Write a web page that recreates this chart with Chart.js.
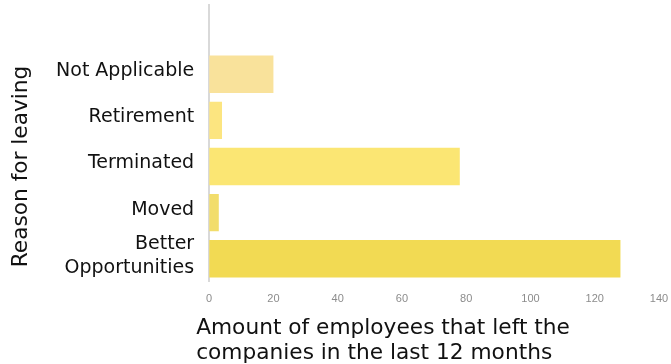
<!DOCTYPE html>
<html>
<head>
<meta charset="utf-8">
<script src="https://cdn.jsdelivr.net/npm/chart.js@4"></script>
<style>
  html, body { margin: 0; padding: 0; background: #fff; }
  #wrap { width: 671px; height: 364px; }
</style>
</head>
<body>
<div id="wrap"><canvas id="myChart"></canvas></div>
<script>
// first slot is left empty so the axis runs up to the top edge
const reasons = ['', 'Not Applicable', 'Retirement', 'Terminated', 'Moved', ['Better', 'Opportunities']];
const leftCount = [null, 20, 4, 78, 3, 128];
const barColors = ['#ffffff', '#f9e29b', '#fce580', '#fbe673', '#f2dd6b', '#f2da53'];
const xTicks = [0, 20, 40, 60, 80, 100, 120, 140];
const xTitle = ['Amount of employees that left the', 'companies in the last 12 months'];
const yTitle = 'Reason for leaving';

const labelFont = "'DejaVu Sans', sans-serif";
const tickFont = "'Liberation Sans', 'Open Sans', sans-serif";
const titleSize = 21.7;

// axis titles drawn by hand: x title starts left of the plot edge,
// y title is centred on the filled categories only
const axisTitles = {
  id: 'axisTitles',
  afterDraw(chart) {
    const c = chart.ctx;
    const area = chart.chartArea;
    const x = chart.scales.x;
    const y = chart.scales.y;
    c.save();
    c.fillStyle = '#111';
    c.font = titleSize + 'px ' + labelFont;
    c.textBaseline = 'middle';
    c.textAlign = 'left';
    xTitle.forEach((line, i) => c.fillText(line, area.left - 13, x.bottom - 35.5 + i * 25));
    const midY = (y.getPixelForValue(1) + y.getPixelForValue(reasons.length - 1)) / 2;
    c.translate(y.left + 18, midY);
    c.rotate(-Math.PI / 2);
    c.textAlign = 'center';
    c.fillText(yTitle, 0, 0);
    c.restore();
  }
};

const data = {
  labels: reasons,
  datasets: [{
    data: leftCount,
    backgroundColor: barColors,
    borderWidth: 0,
    categoryPercentage: 1,
    barPercentage: 0.81
  }]
};

const config = {
  type: 'bar',
  data: data,
  plugins: [axisTitles],
  options: {
    indexAxis: 'y',
    responsive: true,
    maintainAspectRatio: false,
    animation: false,
    layout: { padding: { top: 5, right: 0, left: 3, bottom: 0 } },
    plugins: {
      legend: { display: false },
      tooltip: { enabled: false }
    },
    scales: {
      x: {
        min: 0,
        max: 140,
        afterBuildTicks: (axis) => { axis.ticks = xTicks.map(v => ({ value: v })); },
        afterFit: (s) => { s.paddingLeft = 0; s.paddingRight = 12; },
        grid: { display: false, drawTicks: false },
        border: { display: false },
        ticks: {
          color: '#8c8c8c',
          padding: 11,
          font: { family: tickFont, size: 11 }
        },
        title: {
          display: true,
          text: xTitle,
          color: 'rgba(0,0,0,0)',
          font: { family: labelFont, size: titleSize, lineHeight: 25 / titleSize },
          padding: { top: -3, bottom: 0 }
        }
      },
      y: {
        afterFit: (s) => { s.paddingTop = 0; s.paddingBottom = 0; },
        grid: { display: false, drawTicks: false },
        border: { display: true, color: '#d9d9d9', width: 2 },
        ticks: {
          autoSkip: false,
          color: '#111',
          padding: 15,
          labelOffset: -3,
          font: { family: labelFont, size: 19, lineHeight: 24 / 19 }
        },
        title: {
          display: true,
          text: yTitle,
          color: 'rgba(0,0,0,0)',
          font: { family: labelFont, size: titleSize, lineHeight: 1.2 },
          padding: { top: 0, bottom: 12 }
        }
      }
    }
  }
};

const ctx = document.getElementById('myChart');
const myChart = new Chart(ctx, config);
</script>
</body>
</html>
